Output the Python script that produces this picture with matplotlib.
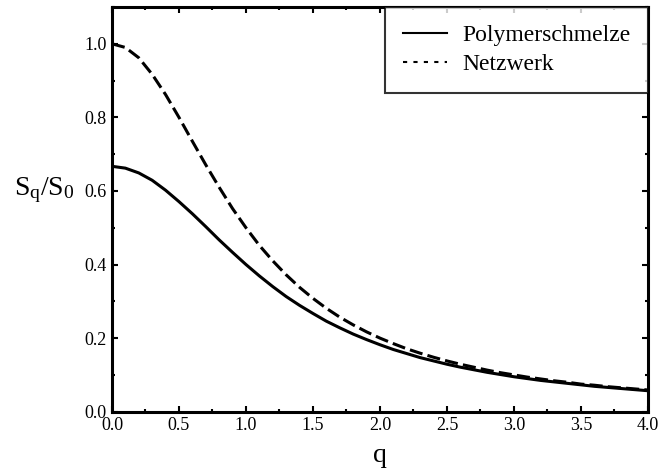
import matplotlib
matplotlib.use("Agg")
import matplotlib.pyplot as plt
from matplotlib.lines import Line2D
from matplotlib.ticker import MultipleLocator

plt.rcParams["font.family"] = ["Liberation Serif", "DejaVu Serif"]
plt.rcParams["mathtext.fontset"] = "custom"
plt.rcParams["mathtext.rm"] = "Liberation Serif"
plt.rcParams["mathtext.it"] = "Liberation Serif:italic"

q = [0.0, 0.1, 0.2, 0.3, 0.4, 0.5, 0.6, 0.7, 0.8, 0.9,
     1.0, 1.1, 1.2, 1.3, 1.4, 1.5, 1.6, 1.7, 1.8, 1.9,
     2.0, 2.1, 2.2, 2.3, 2.4, 2.5, 2.6, 2.7, 2.8, 2.9,
     3.0, 3.1, 3.2, 3.3, 3.4, 3.5, 3.6, 3.7, 3.8, 3.9, 4.0]

polymerschmelze = [0.667, 0.662, 0.649, 0.629, 0.602, 0.571, 0.538, 0.503, 0.467, 0.433,
                   0.400, 0.369, 0.340, 0.313, 0.289, 0.267, 0.246, 0.228, 0.211, 0.196,
                   0.182, 0.169, 0.158, 0.147, 0.138, 0.129, 0.121, 0.114, 0.107, 0.101,
                   0.095, 0.090, 0.085, 0.081, 0.077, 0.073, 0.069, 0.066, 0.063, 0.060, 0.057]

netzwerk = [1.000, 0.990, 0.962, 0.917, 0.862, 0.800, 0.735, 0.671, 0.610, 0.552,
            0.500, 0.452, 0.410, 0.372, 0.338, 0.308, 0.281, 0.257, 0.236, 0.217,
            0.200, 0.185, 0.171, 0.159, 0.148, 0.138, 0.129, 0.121, 0.113, 0.106,
            0.100, 0.094, 0.089, 0.084, 0.080, 0.075, 0.072, 0.068, 0.065, 0.062, 0.059]

fig = plt.figure(figsize=(6.61, 4.73), dpi=100)
ax = fig.add_axes([0.1694, 0.1296, 0.8109, 0.8556])

ax.plot(q, polymerschmelze, color="black", lw=2.2)
ax.plot(q, netzwerk, color="black", lw=2.2, dashes=(4.3, 1.7))

ax.set_xlim(0, 4.0)
ax.set_ylim(0, 1.1)
ax.xaxis.set_major_locator(MultipleLocator(0.5))
ax.xaxis.set_minor_locator(MultipleLocator(0.25))
ax.yaxis.set_major_locator(MultipleLocator(0.2))
ax.yaxis.set_minor_locator(MultipleLocator(0.1))
ax.xaxis.set_major_formatter(matplotlib.ticker.FormatStrFormatter("%.1f"))
ax.yaxis.set_major_formatter(matplotlib.ticker.FormatStrFormatter("%.1f"))
ax.tick_params(which="both", direction="in", top=True, right=True, width=1.5, labelsize=13)
ax.tick_params(which="major", length=4, pad=4)
ax.tick_params(which="minor", length=2)
for s in ax.spines.values():
    s.set_linewidth(2.2)

ax.set_xlabel("q", fontsize=20, labelpad=6)
ax.set_ylabel(r"S$_\mathrm{q}$/S$_0$", fontsize=20, rotation=0)
ax.yaxis.set_label_coords(-0.127, 0.548)
ax.yaxis.label.set_verticalalignment("center")

handles = [Line2D([], [], color="black", lw=1.5),
           Line2D([], [], color="black", lw=1.5, dashes=(2, 3))]
leg = ax.legend(handles, ["Polymerschmelze", "Netzwerk"], loc="upper right",
                fontsize=17, frameon=True, fancybox=False, borderaxespad=0,
                handlelength=1.85, handletextpad=0.65, borderpad=0.75, labelspacing=0.3)
leg.get_frame().set_edgecolor("black")
leg.get_frame().set_linewidth(1.5)

fig.savefig("out.png", dpi=100)
